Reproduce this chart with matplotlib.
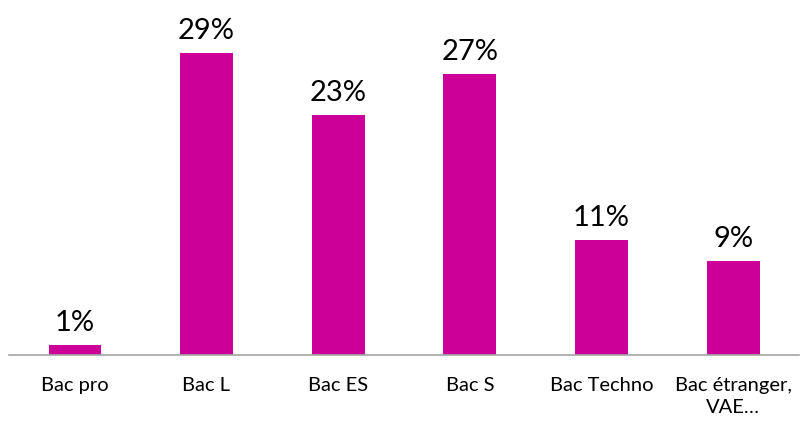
import matplotlib
matplotlib.use("Agg")
import matplotlib.pyplot as plt

categories = ["Bac pro", "Bac L", "Bac ES", "Bac S", "Bac Techno", "Bac étranger,\nVAE…"]
values = [1, 29, 23, 27, 11, 9]
labels = ["1%", "29%", "23%", "27%", "11%", "9%"]

plt.rcParams['font.family'] = ['Lato', 'DejaVu Sans']

fig = plt.figure(figsize=(8, 4.21), dpi=100)
ax = fig.add_axes([9/800, 66/421, 790/800, 355/421])
x = range(len(categories))
bars = ax.bar(x, values, width=0.4, color="#CC0099")
for xi, v, lab in zip(x, values, labels):
    ax.annotate(lab, (xi, v), xytext=(0, 6.5), textcoords="offset points",
                ha="center", va="bottom", fontsize=21, color="#000000")
ax.set_xlim(-0.5, len(categories) - 0.5)
ax.set_ylim(0, 29 * 355 / 302)
ax.set_xticks(list(x))
ax.set_xticklabels(categories, fontsize=14.5, color="#000000", linespacing=1.35)
ax.tick_params(axis="x", length=0, pad=16)
ax.set_yticks([])
for s in ["top", "right", "left"]:
    ax.spines[s].set_visible(False)
ax.spines["bottom"].set_color("#A6A6A6")
ax.spines["bottom"].set_linewidth(1.2)
fig.savefig("out.png", dpi=100)
